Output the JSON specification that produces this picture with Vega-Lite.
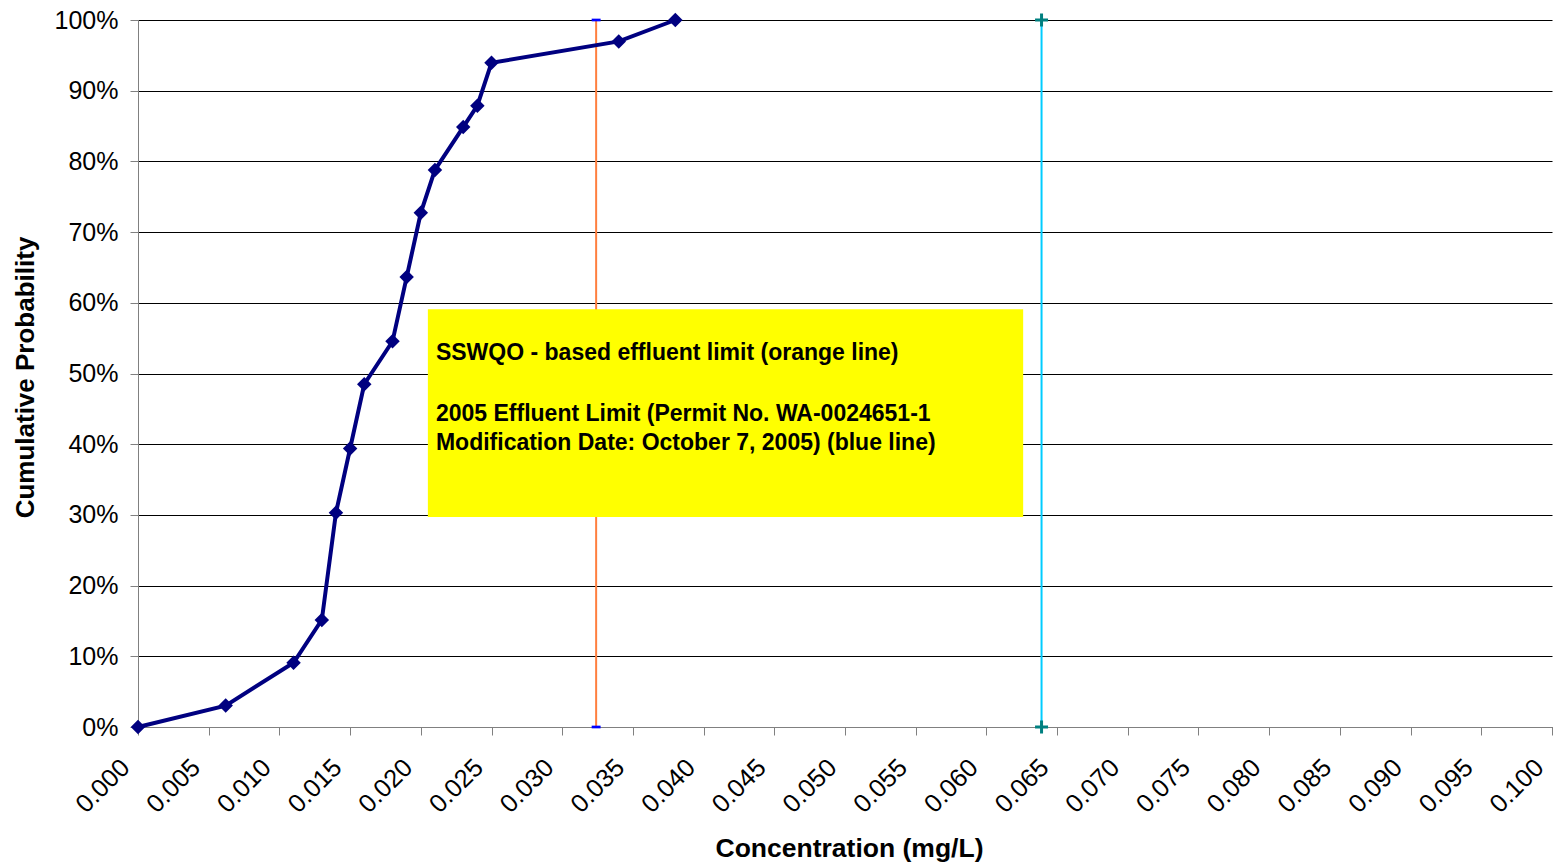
{
  "$schema": "https://vega.github.io/schema/vega-lite/v6.json",
  "autosize": {"type": "none"},
  "width": 1414,
  "height": 707,
  "padding": {"left": 138, "top": 20, "right": 1, "bottom": 138},
  "background": "white",
  "config": {
    "view": {"stroke": null},
    "font": "Liberation Sans",
    "axis": {"labelFont": "Liberation Sans", "titleFont": "Liberation Sans", "labelColor": "#000000", "titleColor": "#000000"}
  },
  "datasets": {
    "curve": [
      {"conc": 0.0, "prob": 0.0},
      {"conc": 0.0062, "prob": 0.0303},
      {"conc": 0.011, "prob": 0.0909},
      {"conc": 0.013, "prob": 0.1515},
      {"conc": 0.014, "prob": 0.303},
      {"conc": 0.015, "prob": 0.3939},
      {"conc": 0.016, "prob": 0.4848},
      {"conc": 0.018, "prob": 0.5455},
      {"conc": 0.019, "prob": 0.6364},
      {"conc": 0.020, "prob": 0.7273},
      {"conc": 0.021, "prob": 0.7879},
      {"conc": 0.023, "prob": 0.8485},
      {"conc": 0.024, "prob": 0.8788},
      {"conc": 0.025, "prob": 0.9394},
      {"conc": 0.034, "prob": 0.9697},
      {"conc": 0.038, "prob": 1.0}
    ],
    "sswqo": [
      {"conc": 0.0324, "prob": 0.0},
      {"conc": 0.0324, "prob": 1.0}
    ],
    "permit": [
      {"conc": 0.0639, "prob": 0.0},
      {"conc": 0.0639, "prob": 1.0}
    ],
    "box": [
      {"x1": 0.0205, "x2": 0.0626, "y1": 0.297, "y2": 0.591}
    ],
    "notes": [
      {"x": 0.02107, "y": 0.529, "text": "SSWQO - based effluent limit (orange line)"},
      {"x": 0.02107, "y": 0.4427, "text": "2005 Effluent Limit (Permit No. WA-0024651-1"},
      {"x": 0.02107, "y": 0.4017, "text": "Modification Date: October 7, 2005) (blue line)"}
    ]
  },
  "layer": [
    {
      "data": {"name": "sswqo"},
      "mark": {"type": "line", "color": "#FF7F3F", "strokeWidth": 2},
      "encoding": {
        "x": {
          "field": "conc", "type": "quantitative",
          "scale": {"domain": [0, 0.1], "nice": false, "zero": false},
          "axis": {
            "title": "Concentration (mg/L)",
            "values": [0, 0.005, 0.01, 0.015, 0.02, 0.025, 0.03, 0.035, 0.04, 0.045, 0.05, 0.055, 0.06, 0.065, 0.07, 0.075, 0.08, 0.085, 0.09, 0.095, 0.1],
            "format": ".3f",
            "grid": false,
            "domainColor": "#808080",
            "tickColor": "#808080",
            "tickSize": 8,
            "labelFontSize": 25.5,
            "labelAngle": -45,
            "labelAlign": "right",
            "labelBaseline": "middle",
            "labelOffset": -13,
            "labelPadding": 28,
            "labelOverlap": false,
            "labelFlush": false,
            "titleFontSize": 26.5,
            "titleFontWeight": "bold",
            "titleX": 711,
            "titleY": 121,
            "titleBaseline": "middle",
            "titleAlign": "center"
          }
        },
        "y": {
          "field": "prob", "type": "quantitative",
          "scale": {"domain": [0, 1], "nice": false},
          "axis": {
            "title": "Cumulative Probability",
            "values": [0, 0.1, 0.2, 0.3, 0.4, 0.5, 0.6, 0.7, 0.8, 0.9, 1.0],
            "format": ".0%",
            "grid": true,
            "gridColor": "#000000",
            "gridWidth": 1,
            "domainColor": "#808080",
            "tickColor": "#808080",
            "tickSize": 8,
            "labelFontSize": 25,
            "labelPadding": 12,
            "labelFlush": false,
            "titleFontSize": 26,
            "titleFontWeight": "bold",
            "titleAngle": -90,
            "titleX": -113,
            "titleY": 357,
            "titleAlign": "center",
            "titleBaseline": "middle"
          }
        }
      }
    },
    {
      "data": {"name": "sswqo"},
      "mark": {"type": "point", "shape": "M-1,-0.3H1V0.3H-1Z", "filled": true, "color": "#0000FF", "size": 80, "opacity": 1},
      "encoding": {
        "x": {"field": "conc", "type": "quantitative"},
        "y": {"field": "prob", "type": "quantitative"}
      }
    },
    {
      "data": {"name": "permit"},
      "mark": {"type": "line", "color": "#00CCFF", "strokeWidth": 2},
      "encoding": {
        "x": {"field": "conc", "type": "quantitative"},
        "y": {"field": "prob", "type": "quantitative"}
      }
    },
    {
      "data": {"name": "permit"},
      "mark": {"type": "point", "shape": "M-1,0H1M0,-1V1", "filled": false, "color": "#008080", "strokeWidth": 3, "size": 169, "opacity": 1},
      "encoding": {
        "x": {"field": "conc", "type": "quantitative"},
        "y": {"field": "prob", "type": "quantitative"}
      }
    },
    {
      "data": {"name": "box"},
      "mark": {"type": "rect", "color": "#FFFF00", "opacity": 1},
      "encoding": {
        "x": {"field": "x1", "type": "quantitative"},
        "x2": {"field": "x2"},
        "y": {"field": "y1", "type": "quantitative"},
        "y2": {"field": "y2"}
      }
    },
    {
      "data": {"name": "notes"},
      "mark": {"type": "text", "align": "left", "baseline": "middle", "fontSize": 23, "fontWeight": "bold", "font": "Liberation Sans", "color": "#000000"},
      "encoding": {
        "x": {"field": "x", "type": "quantitative"},
        "y": {"field": "y", "type": "quantitative"},
        "text": {"field": "text"}
      }
    },
    {
      "data": {"name": "curve"},
      "mark": {"type": "line", "color": "#000080", "strokeWidth": 4},
      "encoding": {
        "x": {"field": "conc", "type": "quantitative"},
        "y": {"field": "prob", "type": "quantitative"}
      }
    },
    {
      "data": {"name": "curve"},
      "mark": {"type": "point", "shape": "diamond", "filled": true, "color": "#000080", "size": 210, "opacity": 1},
      "encoding": {
        "x": {"field": "conc", "type": "quantitative"},
        "y": {"field": "prob", "type": "quantitative"}
      }
    }
  ]
}
